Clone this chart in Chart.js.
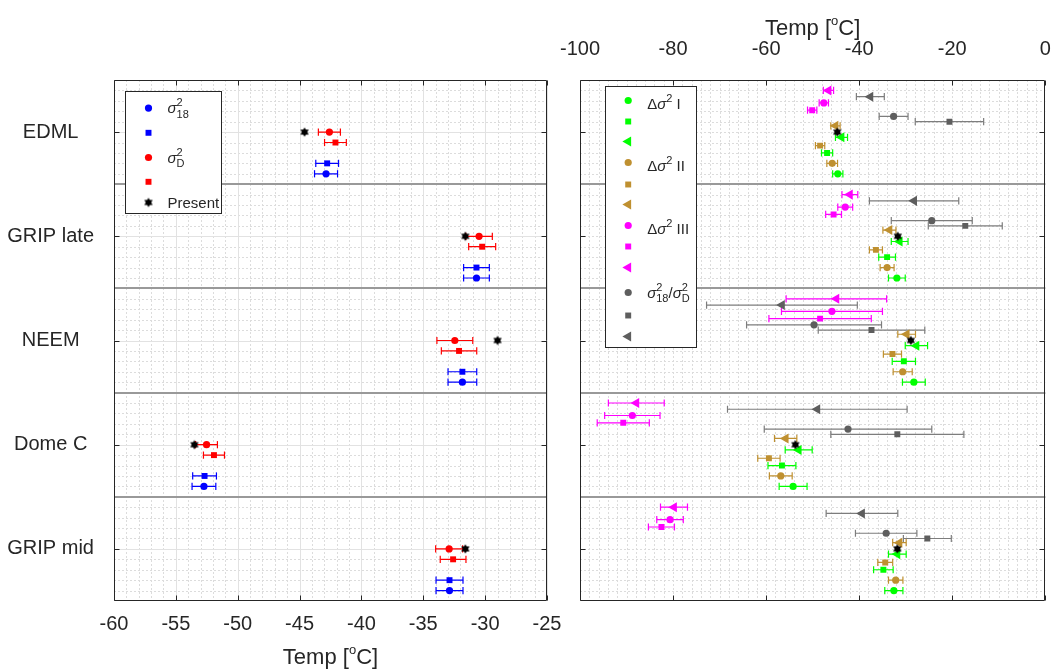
<!DOCTYPE html>
<html>
<head>
<meta charset="utf-8">
<script src="https://cdn.jsdelivr.net/npm/chart.js@4.4.1/dist/chart.umd.min.js"></script>
<style>
  body { margin: 0; background: #fff; }
  .wrap { position: relative; width: 1052px; height: 669px; }
  .wrap canvas { position: absolute; left: 0; top: 0; }
</style>
</head>
<body>
<div class="wrap">
  <canvas id="leftChart" width="1052" height="669"></canvas>
  <canvas id="rightChart" width="1052" height="669"></canvas>
</div>
<script>
const sites = ['EDML', 'GRIP late', 'NEEM', 'Dome C', 'GRIP mid'];

// present day temperature (stars)
const presentLeft = [-44.6, -31.6, -29.0, -53.5, -31.6];
const presentRight = [-44.7, -31.7, -28.9, -53.7, -31.8];

// left panel: temperature and half error bar
const sig18Circle = [-42.86, -30.70, -31.84, -52.73, -32.88];
const sig18CircleErr = [0.93, 1.04, 1.16, 0.96, 1.09];
const sig18Square = [-42.77, -30.70, -31.84, -52.68, -32.88];
const sig18SquareErr = [0.92, 1.04, 1.16, 0.96, 1.09];
const sigDCircle = [-42.59, -30.49, -32.45, -52.52, -32.91];
const sigDCircleErr = [0.89, 1.07, 1.45, 0.88, 1.09];
const sigDSquare = [-42.10, -30.24, -32.11, -51.92, -32.59];
const sigDSquareErr = [0.88, 1.09, 1.43, 0.85, 1.04];

// right panel
const dI_circle = [-44.6, -31.9, -28.25, -54.2, -32.55];
const dI_circleErr = [1.1, 1.8, 2.45, 3.0, 1.95];
const dI_square = [-46.9, -34.0, -30.4, -56.6, -34.8];
const dI_squareErr = [1.2, 1.8, 2.5, 3.0, 2.1];
const dI_tri = [-43.8, -31.3, -27.7, -53.0, -31.8];
const dI_triErr = [1.3, 1.8, 2.4, 2.9, 1.9];

const dII_circle = [-45.8, -34.0, -30.65, -56.85, -32.15];
const dII_circleErr = [1.15, 1.5, 2.05, 2.45, 1.55];
const dII_square = [-48.4, -36.4, -32.85, -59.4, -34.4];
const dII_squareErr = [1.0, 1.4, 1.95, 2.4, 1.6];
const dII_tri = [-45.1, -33.5, -29.8, -55.8, -31.35];
const dII_triErr = [1.0, 1.4, 1.9, 2.4, 1.45];

const dIII_circle = [-47.6, -43.0, -45.85, -88.75, -80.65];
const dIII_circleErr = [1.0, 1.6, 10.85, 5.95, 2.85];
const dIII_square = [-50.1, -45.5, -48.4, -90.7, -82.5];
const dIII_squareErr = [1.0, 1.7, 11.0, 5.6, 2.8];
const dIII_tri = [-46.6, -42.0, -44.9, -87.9, -79.8];
const dIII_triErr = [1.1, 1.7, 10.8, 6.0, 2.9];

const ratio_circle = [-32.6, -24.4, -49.7, -42.4, -34.2];
const ratio_circleErr = [3.1, 8.7, 14.5, 18.0, 6.6];
const ratio_square = [-20.6, -17.2, -37.35, -31.8, -25.35];
const ratio_squareErr = [7.35, 7.95, 11.45, 14.3, 5.15];
const ratio_tri = [-37.6, -28.2, -56.6, -49.0, -39.4];
const ratio_triErr = [3.0, 9.6, 16.2, 19.3, 7.7];

const FONT = '"Liberation Sans", Arial, Helvetica, sans-serif';
const TXT = '#262626';
const BLUE = '#0000ff', RED = '#ff0000', GREEN = '#00ff00';
const BROWN = '#bf9030', MAGENTA = '#ff00ff', GRAY = '#5e5e5e', GRAYBAR = '#7d7d7d';
const R = { circle: 3.6, rect: 4.2, triangle: 5.8 };

// filled six pointed star used as marker
function hexagram(r) {
  const c = document.createElement('canvas');
  const s = Math.ceil(r * 2 + 2);
  c.width = s; c.height = s;
  const g = c.getContext('2d');
  g.fillStyle = '#000';
  [0, Math.PI].forEach(a0 => {
    g.beginPath();
    for (let k = 0; k < 3; k++) {
      const a = a0 + k * 2 * Math.PI / 3;
      g.lineTo(s / 2 + r * Math.sin(a), s / 2 - r * Math.cos(a));
    }
    g.closePath();
    g.fill();
  });
  return c;
}
const starImg = hexagram(4.8);

function markerSet(vals, off, style, color, order) {
  return {
    data: vals.map((v, i) => ({ x: v, y: i + off })),
    showLine: false,
    pointStyle: style === 'star' ? starImg : style,
    pointRotation: style === 'triangle' ? -90 : 0,
    pointRadius: R[style] || 5,
    backgroundColor: color,
    borderColor: color,
    pointBorderWidth: 0,
    order: order === undefined ? 1 : order
  };
}

function errorSet(vals, errs, off, color) {
  const data = [];
  vals.forEach((v, i) => {
    data.push({ x: v - errs[i], y: i + off }, { x: v + errs[i], y: i + off }, { x: v, y: null });
  });
  return {
    data,
    showLine: true,
    spanGaps: false,
    borderColor: color,
    borderWidth: 1.2,
    pointStyle: 'line',
    pointRotation: 90,
    pointRadius: 3.6,
    pointBorderColor: color,
    pointBorderWidth: 1.2,
    order: 2
  };
}

function drawRich(ctx, segs, x, base, size, align, ratio) {
  const small = Math.round(size * (ratio || 0.72));
  const parts = segs.map(s => {
    if (s.t !== undefined) {
      const font = (s.italic ? 'italic ' : '') + size + 'px ' + FONT;
      ctx.font = font;
      return { t: s.t, font, w: ctx.measureText(s.t).width };
    }
    const font = small + 'px ' + FONT;
    ctx.font = font;
    const w = Math.max(s.sup ? ctx.measureText(s.sup).width : 0, s.sub ? ctx.measureText(s.sub).width : 0);
    return { sup: s.sup, sub: s.sub, font, w };
  });
  const total = parts.reduce((a, p) => a + p.w, 0);
  let cx = align === 'center' ? x - total / 2 : x;
  ctx.textAlign = 'left';
  ctx.textBaseline = 'alphabetic';
  ctx.fillStyle = TXT;
  parts.forEach(p => {
    ctx.font = p.font;
    if (p.t !== undefined) ctx.fillText(p.t, cx, base);
    else {
      if (p.sup) ctx.fillText(p.sup, cx, base - size * 0.45);
      if (p.sub) ctx.fillText(p.sub, cx, base + size * 0.32);
    }
    cx += p.w;
  });
}

function drawMarker(ctx, style, color, x, y) {
  if (style === 'star') {
    ctx.drawImage(starImg, x - starImg.width / 2, y - starImg.height / 2);
    return;
  }
  const r = R[style];
  ctx.fillStyle = color;
  ctx.beginPath();
  if (style === 'circle') ctx.arc(x, y, r, 0, Math.PI * 2);
  else if (style === 'rect') {
    const h = r * Math.SQRT1_2;
    ctx.rect(x - h, y - h, 2 * h, 2 * h);
  } else {
    ctx.moveTo(x - r, y);
    ctx.lineTo(x + r / 2, y - r * 0.866);
    ctx.lineTo(x + r / 2, y + r * 0.866);
    ctx.closePath();
  }
  ctx.fill();
}

// grid, separators, box and inward ticks (MATLAB look)
const framePlugin = {
  id: 'frame',
  beforeDatasetsDraw(chart, args, o) {
    const { ctx, chartArea: a } = chart;
    const x = chart.scales.x, y = chart.scales.y;
    const px = v => Math.round(x.getPixelForValue(v)) + 0.5;
    const py = v => Math.round(y.getPixelForValue(v)) + 0.5;
    ctx.save();
    ctx.lineWidth = 1;
    ctx.strokeStyle = '#dcdcdc';
    ctx.setLineDash([2, 2]);
    ctx.beginPath();
    const nx = Math.round((x.max - x.min) / o.xMinor);
    for (let k = 1; k < nx; k++) {
      const p = px(x.min + k * o.xMinor);
      ctx.moveTo(p, a.top); ctx.lineTo(p, a.bottom);
    }
    const ny = Math.round((y.max - y.min) * 10);
    for (let k = 1; k < ny; k++) {
      const p = py(y.min + k / 10);
      ctx.moveTo(a.left, p); ctx.lineTo(a.right, p);
    }
    ctx.stroke();
    ctx.setLineDash([]);
    if (o.major) {
      ctx.strokeStyle = '#e2e2e2';
      ctx.beginPath();
      x.ticks.forEach(t => {
        const p = px(t.value);
        ctx.moveTo(p, a.top); ctx.lineTo(p, a.bottom);
      });
      sites.forEach((s, i) => {
        const p = py(i);
        ctx.moveTo(a.left, p); ctx.lineTo(a.right, p);
      });
      ctx.stroke();
    }
    ctx.strokeStyle = '#999999';
    ctx.lineWidth = 2;
    ctx.beginPath();
    for (let i = 1; i < sites.length; i++) {
      const p = Math.round(y.getPixelForValue(i - 0.5));
      ctx.moveTo(a.left, p); ctx.lineTo(a.right, p);
    }
    ctx.stroke();
    ctx.restore();
  },
  afterDatasetsDraw(chart) {
    const { ctx, chartArea: a } = chart;
    const x = chart.scales.x, y = chart.scales.y;
    const L = Math.round(a.left) + 0.5, Rr = Math.round(a.right) - 0.5;
    const T = Math.round(a.top) + 0.5, B = Math.round(a.bottom) - 0.5;
    ctx.save();
    ctx.strokeStyle = TXT;
    ctx.lineWidth = 1;
    ctx.beginPath();
    ctx.rect(L, T, Rr - L, B - T);
    x.ticks.forEach(t => {
      const p = Math.round(x.getPixelForValue(t.value)) + 0.5;
      ctx.moveTo(p, T); ctx.lineTo(p, T + 5);
      ctx.moveTo(p, B); ctx.lineTo(p, B - 5);
    });
    sites.forEach((s, i) => {
      const p = Math.round(y.getPixelForValue(i)) + 0.5;
      ctx.moveTo(L, p); ctx.lineTo(L + 5, p);
      ctx.moveTo(Rr, p); ctx.lineTo(Rr - 5, p);
    });
    ctx.stroke();
    ctx.restore();
  }
};

// legend layouts kept outside the chart options (so Chart.js does not proxy them)
const legendText = {
  I: [{ t: 'Δ' }, { t: 'σ', italic: true }, { sup: '2' }, { t: ' I' }],
  II: [{ t: 'Δ' }, { t: 'σ', italic: true }, { sup: '2' }, { t: ' II' }],
  III: [{ t: 'Δ' }, { t: 'σ', italic: true }, { sup: '2' }, { t: ' III' }],
  ratio: [{ t: 'σ', italic: true }, { sup: '2', sub: '18' }, { t: '/' }, { t: 'σ', italic: true }, { sup: '2', sub: 'D' }],
  s18: [{ t: 'σ', italic: true }, { sup: '2', sub: '18' }],
  sD: [{ t: 'σ', italic: true }, { sup: '2', sub: 'D' }],
  present: [{ t: 'Present' }]
};

// axis title and legend box
const decorPlugin = {
  id: 'decor',
  afterDraw(chart, args, o) {
    const { ctx, chartArea: a } = chart;
    const lg = legends[o.key];
    ctx.save();
    const cx = (a.left + a.right) / 2;
    const base = lg.titleTop ? a.top - 45 : a.bottom + 63;
    drawRich(ctx, [{ t: 'Temp [' }, { sup: 'o' }, { t: 'C]' }], cx, base, 22, 'center', 0.6);
    const bx = Math.round(a.left + lg.dx) + 0.5, by = Math.round(a.top + lg.dy) + 0.5;
    ctx.fillStyle = '#fff';
    ctx.fillRect(bx, by, lg.w, lg.h);
    ctx.strokeStyle = TXT;
    ctx.lineWidth = 1;
    ctx.strokeRect(bx, by, lg.w, lg.h);
    lg.items.forEach(it => {
      const my = by + it.y;
      drawMarker(ctx, it.style, it.color, bx + lg.mx, my);
      if (it.text) drawRich(ctx, legendText[it.text], bx + lg.tx, my + it.tdy, 15, 'left', 0.74);
    });
    ctx.restore();
  }
};

const baseOptions = {
  responsive: false,
  animation: false,
  events: [],
  devicePixelRatio: 1
};

function yScale(showLabels) {
  return {
    type: 'linear',
    min: -0.5,
    max: 4.5,
    reverse: true,
    display: showLabels,
    grid: { display: false, drawTicks: false },
    border: { display: false },
    afterBuildTicks: s => { s.ticks = sites.map((n, i) => ({ value: i })); },
    afterFit: s => { s.width = showLabels ? 114 : 0; },
    ticks: {
      callback: v => sites[v],
      crossAlign: 'center',
      padding: 20,
      color: TXT,
      font: { family: FONT, size: 20 }
    }
  };
}

// fixed axis height, no extra label padding eating into the plot
function xFit(h) {
  return s => {
    s.height = h;
    s.paddingLeft = 0;
    s.paddingRight = 0;
  };
}

// left chart
const leftSeries = [
  { vals: sig18Circle, errs: sig18CircleErr, off: 0.4, style: 'circle', color: BLUE },
  { vals: sig18Square, errs: sig18SquareErr, off: 0.3, style: 'rect', color: BLUE },
  { vals: sigDCircle, errs: sigDCircleErr, off: 0.0, style: 'circle', color: RED },
  { vals: sigDSquare, errs: sigDSquareErr, off: 0.1, style: 'rect', color: RED }
];
const leftDatasets = [markerSet(presentLeft, 0, 'star', '#000', 0)];
leftSeries.forEach(s => {
  leftDatasets.push(markerSet(s.vals, s.off, s.style, s.color));
  leftDatasets.push(errorSet(s.vals, s.errs, s.off, s.color));
});

// right chart
const rightSeries = [
  { vals: dI_circle, errs: dI_circleErr, off: 0.40, style: 'circle', color: GREEN },
  { vals: dI_square, errs: dI_squareErr, off: 0.20, style: 'rect', color: GREEN },
  { vals: dI_tri, errs: dI_triErr, off: 0.05, style: 'triangle', color: GREEN },
  { vals: dII_circle, errs: dII_circleErr, off: 0.30, style: 'circle', color: BROWN },
  { vals: dII_square, errs: dII_squareErr, off: 0.13, style: 'rect', color: BROWN },
  { vals: dII_tri, errs: dII_triErr, off: -0.06, style: 'triangle', color: BROWN },
  { vals: dIII_circle, errs: dIII_circleErr, off: -0.28, style: 'circle', color: MAGENTA },
  { vals: dIII_square, errs: dIII_squareErr, off: -0.21, style: 'rect', color: MAGENTA },
  { vals: dIII_tri, errs: dIII_triErr, off: -0.40, style: 'triangle', color: MAGENTA },
  { vals: ratio_circle, errs: ratio_circleErr, off: -0.15, style: 'circle', color: GRAY, bar: GRAYBAR },
  { vals: ratio_square, errs: ratio_squareErr, off: -0.10, style: 'rect', color: GRAY, bar: GRAYBAR },
  { vals: ratio_tri, errs: ratio_triErr, off: -0.34, style: 'triangle', color: GRAY, bar: GRAYBAR }
];
const rightDatasets = [markerSet(presentRight, 0, 'star', '#000', 0)];
rightSeries.forEach(s => {
  rightDatasets.push(markerSet(s.vals, s.off, s.style, s.color));
  rightDatasets.push(errorSet(s.vals, s.errs, s.off, s.bar || s.color));
});

const rightLegendY = [14, 35, 55, 76, 98, 118, 139, 160, 181, 206, 229, 250];
const rightLegendText = { 0: 'I', 3: 'II', 6: 'III', 9: 'ratio' };

const legends = {
  left: {
    titleTop: false,
    dx: 11, dy: 10.5, w: 96, h: 122, mx: 23, tx: 42,
    items: [
      { style: 'circle', color: BLUE, y: 16.6, tdy: 5, text: 's18' },
      { style: 'rect', color: BLUE, y: 41.3 },
      { style: 'circle', color: RED, y: 66, tdy: 5, text: 'sD' },
      { style: 'rect', color: RED, y: 90.3 },
      { style: 'star', y: 111, tdy: 5.5, text: 'present' }
    ]
  },
  right: {
    titleTop: true,
    dx: 25, dy: 6, w: 91, h: 261, mx: 22.7, tx: 41.7,
    items: rightSeries.map((s, i) => ({
      style: s.style, color: s.color, y: rightLegendY[i], tdy: i === 9 ? 5 : 8, text: rightLegendText[i]
    }))
  }
};

new Chart(document.getElementById('leftChart'), {
  type: 'scatter',
  data: { datasets: leftDatasets },
  options: {
    ...baseOptions,
    layout: { padding: { left: 0, right: 505, top: 80, bottom: 0 } },
    scales: {
      x: {
        type: 'linear',
        position: 'bottom',
        min: -60,
        max: -25,
        grid: { display: false, drawTicks: false },
        border: { display: false },
        afterFit: xFit(68),
        ticks: { stepSize: 5, maxRotation: 0, padding: 11, color: TXT, font: { family: FONT, size: 20 } }
      },
      y: yScale(true)
    },
    plugins: {
      legend: { display: false },
      tooltip: { enabled: false },
      frame: { xMinor: 1, major: true },
      decor: { key: 'left' }
    }
  },
  plugins: [framePlugin, decorPlugin]
});

new Chart(document.getElementById('rightChart'), {
  type: 'scatter',
  data: { datasets: rightDatasets },
  options: {
    ...baseOptions,
    layout: { padding: { left: 580, right: 6.7, top: 0, bottom: 68 } },
    scales: {
      x: {
        type: 'linear',
        position: 'top',
        min: -100,
        max: 0,
        grid: { display: false, drawTicks: false },
        border: { display: false },
        afterFit: xFit(80),
        ticks: { stepSize: 20, maxRotation: 0, padding: 19, color: TXT, font: { family: FONT, size: 20 } }
      },
      y: yScale(false)
    },
    plugins: {
      legend: { display: false },
      tooltip: { enabled: false },
      frame: { xMinor: 2, major: false },
      decor: { key: 'right' }
    }
  },
  plugins: [framePlugin, decorPlugin]
});
</script>
</body>
</html>
